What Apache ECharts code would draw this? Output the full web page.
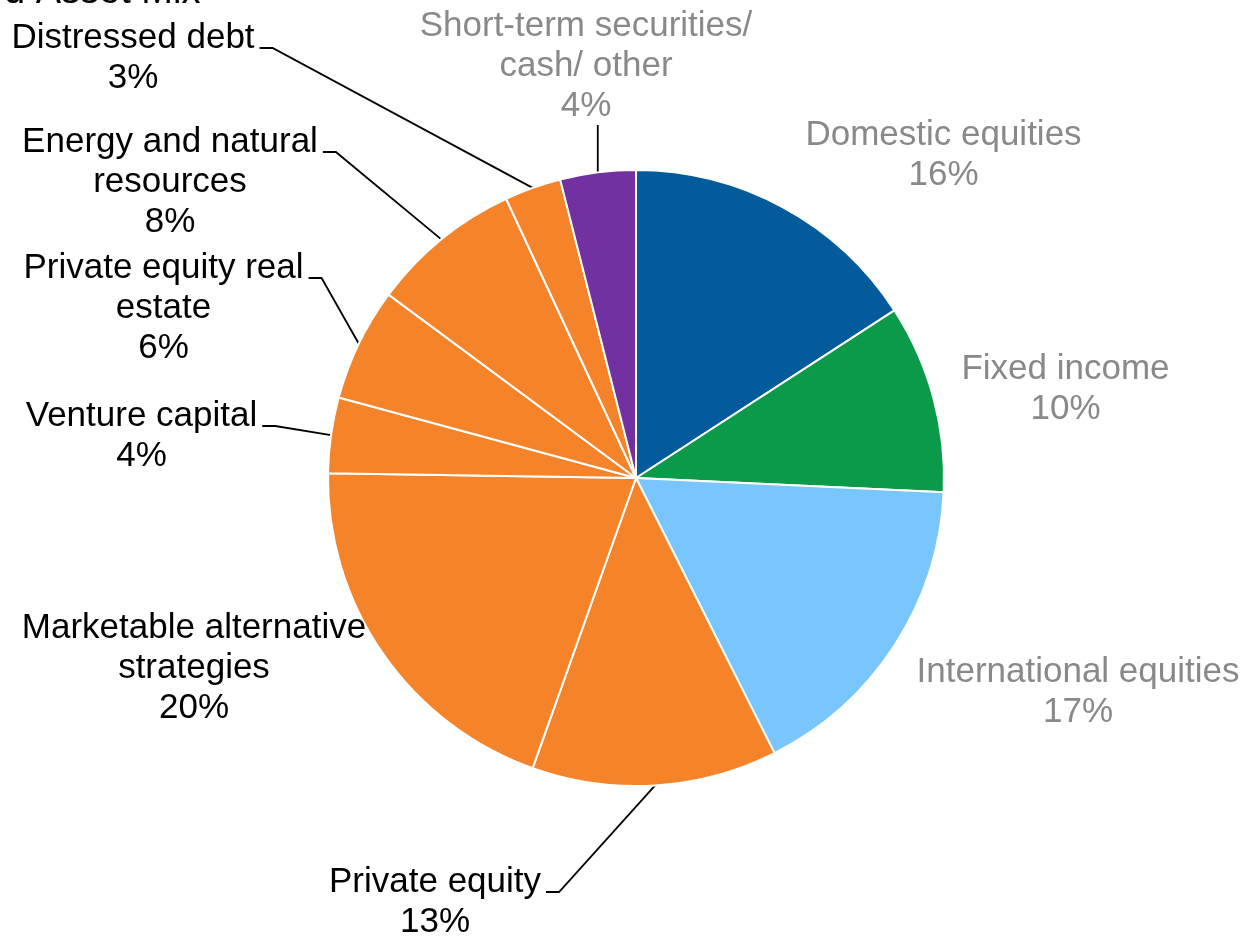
<!DOCTYPE html>
<html>
<head>
<meta charset="utf-8">
<title>Asset Mix</title>
<script src="https://cdn.jsdelivr.net/npm/echarts@6/dist/echarts.min.js"></script>
<style>
  html, body { margin: 0; padding: 0; background: #fff; }
  #chart { width: 1247px; height: 936px; }
</style>
</head>
<body>
<div id="chart"></div>
<script>
// Asset classes, clockwise from 12 o'clock
const categories = [
  'Domestic equities',
  'Fixed income',
  'International equities',
  'Private equity',
  'Marketable alternative\nstrategies',
  'Venture capital',
  'Private equity real\nestate',
  'Energy and natural\nresources',
  'Distressed debt',
  'Short-term securities/\ncash/ other'
];
// Allocation, percent
const allocation = [16, 10, 17, 13, 20, 4, 6, 8, 3, 4];

// Slice colours and label colours
const BLUE = '#045B9C', GREEN = '#0A9A4A', LIGHT = '#79C6FE', ORANGE = '#F5832A', PURPLE = '#7131A0';
const sliceColors = [BLUE, GREEN, LIGHT, ORANGE, ORANGE, ORANGE, ORANGE, ORANGE, ORANGE, PURPLE];
const GREY = '#898989';
const labelColors = [GREY, GREY, GREY, '#000', '#000', '#000', '#000', '#000', '#000', GREY];

// Label placement: centre x / top y of each text block, and leader style
// 'none' = no leader, 'elbow' = short horizontal tail off the first line, 'up' = straight vertical
const labelPlace = [
  { x: 943.5, y: 115, lead: 'none' },
  { x: 1065.5, y: 349, lead: 'none' },
  { x: 1078, y: 652, lead: 'none' },
  { x: 435, y: 862, lead: 'elbow' },
  { x: 194, y: 608, lead: 'none' },
  { x: 141.5, y: 396, lead: 'elbow' },
  { x: 163.5, y: 248, lead: 'elbow' },
  { x: 170, y: 122, lead: 'elbow' },
  { x: 133, y: 18, lead: 'elbow' },
  { x: 586, y: 6, lead: 'up' }
];

const FONT = '"Liberation Sans", Arial, "DejaVu Sans", sans-serif';

const chart = echarts.init(document.getElementById('chart'), null, { renderer: 'canvas' });

const seriesData = categories.map((name, i) => ({
  name: name,
  value: allocation[i],
  itemStyle: { color: sliceColors[i] },
  label: { color: labelColors[i] },
  labelLine: { show: labelPlace[i].lead !== 'none' }
}));

chart.setOption({
  animation: false,
  backgroundColor: '#fff',
  graphic: [{
    type: 'text',
    x: 4,
    y: -7,
    style: {
      text: 'd Asset Mix',
      font: '38px ' + FONT,
      fill: '#000',
      verticalAlign: 'middle',
      align: 'left'
    }
  }],
  series: [{
    type: 'pie',
    center: [636, 478],
    radius: 308,
    startAngle: 90,
    clockwise: true,
    avoidLabelOverlap: false,
    data: seriesData,
    itemStyle: { borderColor: '#fff', borderWidth: 2 },
    label: {
      show: true,
      position: 'outside',
      formatter: p => p.name + '\n' + p.value + '%',
      fontFamily: FONT,
      fontSize: 35,
      lineHeight: 40,
      align: 'center'
    },
    labelLine: {
      show: true,
      lineStyle: { color: '#000', width: 1.8 }
    },
    emphasis: { disabled: true },
    labelLayout: function (params) {
      const i = params.dataIndex;
      const place = labelPlace[i];
      const out = { x: place.x, y: place.y, align: 'center', verticalAlign: 'top' };
      const pts = params.labelLinePoints;
      if (place.lead !== 'none' && pts && pts.length) {
        const start = pts[0];
        const w = params.labelRect.width;
        const h = params.labelRect.height;
        if (place.lead === 'elbow') {
          const yLine = place.y + 30;
          const right = place.x + w / 2 + 5;
          out.labelLinePoints = [start, [right + 13, yLine], [right, yLine]];
        } else {
          out.labelLinePoints = [start, [start[0], place.y + h - 1]];
        }
      }
      return out;
    }
  }]
});
</script>
</body>
</html>
